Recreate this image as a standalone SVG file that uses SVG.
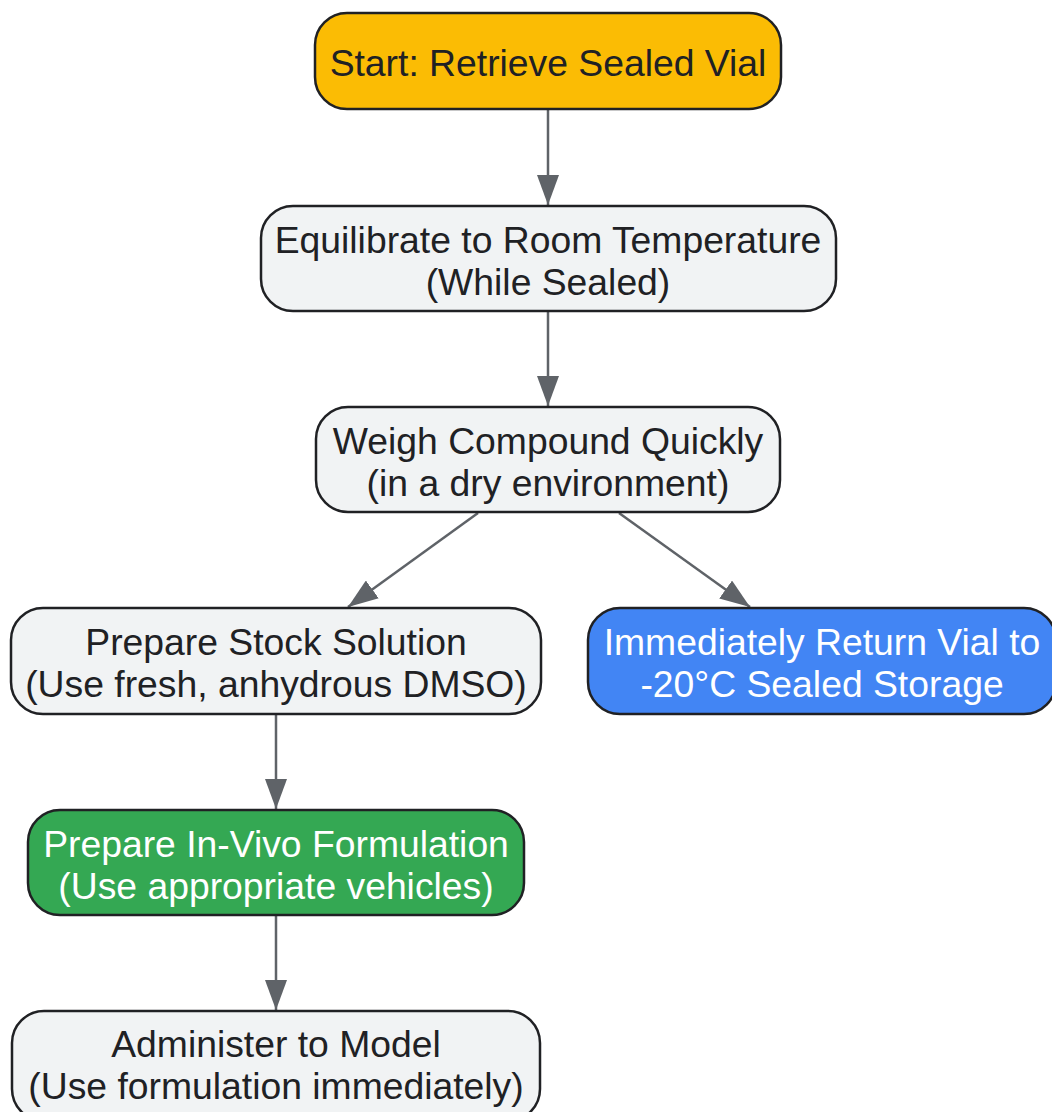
<svg xmlns="http://www.w3.org/2000/svg" width="1052" height="1112" viewBox="0 0 1052 1112">
<defs>
<marker id="ah" viewBox="0 0 30 22" refX="30" refY="11" markerWidth="30" markerHeight="22" markerUnits="userSpaceOnUse" orient="auto">
<path d="M0,0 L30,11 L0,22 Z" fill="#5F6368"/>
</marker>
<style>
.n{stroke:#202124;stroke-width:2.5}
.g{fill:#F1F3F4}
.t{font-family:"Liberation Sans",Arial,sans-serif;font-size:37.3px;text-anchor:middle;fill:#202124}
.w{fill:#FFFFFF}
.e{stroke:#5F6368;stroke-width:2.5;fill:none;marker-end:url(#ah)}
</style>
</defs>
<rect width="1052" height="1112" fill="#FFFFFF"/>
<g id="edges">
<line class="e" x1="548" y1="109" x2="548" y2="205"/>
<line class="e" x1="548" y1="311" x2="548" y2="406"/>
<line class="e" x1="478" y1="513" x2="348" y2="607"/>
<line class="e" x1="619" y1="513" x2="750" y2="607"/>
<line class="e" x1="276" y1="714" x2="276" y2="809"/>
<line class="e" x1="276" y1="915" x2="276" y2="1010"/>
</g>
<g id="n1">
<rect class="n" x="315" y="13" width="466" height="96" rx="32" fill="#FBBC04"/>
<text class="t" x="548" y="76">Start: Retrieve Sealed Vial</text>
</g>
<g id="n2">
<rect class="n g" x="261" y="206" width="575" height="105" rx="32"/>
<text class="t" x="548" y="253">Equilibrate to Room Temperature</text>
<text class="t" x="548" y="295">(While Sealed)</text>
</g>
<g id="n3">
<rect class="n g" x="316" y="407" width="464" height="105" rx="32"/>
<text class="t" x="548" y="454">Weigh Compound Quickly</text>
<text class="t" x="548" y="496">(in a dry environment)</text>
</g>
<g id="n4">
<rect class="n g" x="11" y="608" width="530" height="106" rx="32"/>
<text class="t" x="276" y="655">Prepare Stock Solution</text>
<text class="t" x="276" y="697">(Use fresh, anhydrous DMSO)</text>
</g>
<g id="n5">
<rect class="n" x="588" y="608" width="468" height="106" rx="32" fill="#4285F4"/>
<text class="t w" x="822" y="655">Immediately Return Vial to</text>
<text class="t w" x="822" y="697">-20°C Sealed Storage</text>
</g>
<g id="n6">
<rect class="n" x="28" y="810" width="496" height="105" rx="32" fill="#34A853"/>
<text class="t w" x="276" y="857">Prepare In-Vivo Formulation</text>
<text class="t w" x="276" y="899">(Use appropriate vehicles)</text>
</g>
<g id="n7">
<rect class="n g" x="12" y="1011" width="528" height="110" rx="32"/>
<text class="t" x="276" y="1057">Administer to Model</text>
<text class="t" x="276" y="1099">(Use formulation immediately)</text>
</g>
</svg>
